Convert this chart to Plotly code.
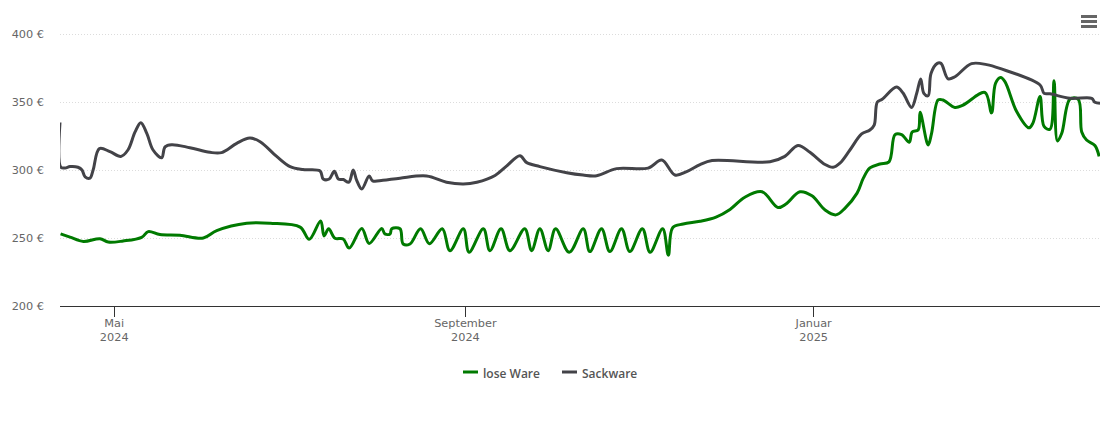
"""Price history of pellets, loose vs. bagged"""

import pandas as pd
import plotly.graph_objects as go

START = pd.Timestamp("2024-04-12")

# days since START, price in euro
sack_days = [0, 0.3, 1.8, 3.5, 6.3, 7.7, 8.8, 10.5, 11.6, 13.8, 17.5, 21.3, 23.8, 26.3, 28.3, 30.4, 32.6, 35.6, 36.8, 39.1,
             45.5, 52.5, 56.6, 61.9, 66.5, 70.1, 75.9, 80.6, 85.1, 91.1, 92.2, 94.3, 96.1, 97.5, 99.2, 101.2, 102.7, 103.9,
             105.7, 108.3, 109.5, 113.1, 119.1, 128.4, 135.4, 141.3, 146, 152.4, 156.5, 161.1, 163.5, 168.1, 177.5, 183.2,
             188, 195, 206, 210.8, 215.4, 219.5, 224.2, 228.4, 248.7, 253.9, 258.5, 262.7, 268, 270.8, 273.2, 276.7, 280.8,
             283.7, 285.2, 286.3, 288, 293, 295.3, 298.3, 300.1, 301.5, 302.6, 304.1, 305.1, 307.3, 308.6, 311.1, 313.5,
             319.3, 324.6, 329.2, 343.3, 344.7, 346.8, 353.8, 361.4, 362.5, 364.3]
sack_prices = [335, 302, 301.5, 302.5, 302, 300, 295, 294, 300, 315.7, 313.5, 310, 314.7, 328, 334.8, 327, 314.7, 309, 317, 318.6,
               316.4, 313, 312.8, 319.6, 323.5, 320.8, 310, 302.5, 300.3, 299.3, 293.4, 293.4, 299, 293.4, 293, 291, 300, 292.6,
               286, 295.6, 292, 292.4, 294, 295.6, 291, 289.7, 291, 296, 303, 310.5, 305.4, 302.5, 298, 296.3,
               295.8, 301, 301.4, 307.3, 296.3, 298.8, 304, 307, 306, 310, 318, 313, 304, 302, 305, 314.7, 326.5,
               329.4, 333, 350, 352, 361, 356.6, 346, 356.4, 367, 356.4, 354.6, 371, 378.4, 378.4, 367, 368.6,
               378.2, 377.5, 374.7, 362.5, 356.4, 356, 352.7, 352.7, 349.8, 349]

lose_days = [0.2, 3.5, 8.2, 14, 16.9, 22.1, 28.6, 30.9, 35, 42, 50.2, 54.9, 65.4, 73.6, 84.1, 87.3, 91.3, 92.5, 94.1, 96.3,
             99.2, 101.3, 105.7, 108.3, 112.7, 113.8, 115.6, 116.2, 119.1, 120.2, 122.6, 126.3, 129.4, 133.9, 136.6, 141.3,
             143.3, 148.3, 150.6, 154.5, 157.6, 162.8, 165.2, 168.1, 171, 173.6, 178.4, 183.3, 185.6, 189.7, 192.6, 196.7,
             199.6, 204, 206.7, 211.1, 213.1, 214.6, 218.3, 224.2, 229.8, 234.7, 239.9, 245.9, 251.5, 254.3, 259.2, 263.4,
             268, 271.8, 275, 279.2, 281.4, 283.7, 287.2, 290.4, 292.5, 294.8, 297.5, 298.5, 300.6, 301.3, 304.1, 305.3,
             307.6, 309.3, 313.5, 316.4, 324, 326.3, 327.7, 329.5, 331, 335.1, 339.4, 340.8, 343.3, 344.7, 346.8, 348.2,
             349.4, 350.9, 353.8, 356.7, 357.9, 359.6, 362.5, 364]
lose_prices = [253, 250.7, 247.5, 249.5, 247, 247.8, 250.5, 254.7, 252.5, 252, 250, 255.4, 260.8, 260.8, 258, 249, 262.5, 251.5, 256.8, 249.8,
               249.3, 242.6, 257, 246, 257, 253, 253, 256.8, 256.8, 245.6, 245.6, 256.8, 245.8, 256.8, 240.7, 256.8,
               239.5, 256.8, 240.7, 256.8, 240.7, 256.8, 240.7, 256.8, 240.7, 256.8, 239.5, 256.8, 240, 256.8, 240, 256.8,
               240, 256.8, 239.5, 256.8, 237.3, 257.6, 260.3, 262.3, 265.4, 271, 280, 284, 272.4, 275, 284, 281,
               270.6, 267, 272, 283, 294, 301.5, 304.4, 306, 326, 326, 320.4, 328, 329.4, 342.4, 318.4, 327,
               351.5, 351.5, 346, 347.8, 357, 342, 363.7, 368, 365, 343, 331, 334.5, 354, 332, 330, 365.6,
               321.3, 327, 352.2, 352, 328, 322, 318, 310]

tick_dates = ["2024-05-01", "2024-09-01", "2025-01-01"]
tick_labels = ["Mai<br>2024", "September<br>2024", "Januar<br>2025"]
y_ticks = [200, 250, 300, 350, 400]
y_labels = ["200 €", "250 €", "300 €", "350 €", "400 €"]

GREEN = "#007a00"
GREY = "#434348"
PLOT_W, PLOT_H = 1040, 273


def to_dates(days):
    return START + pd.to_timedelta(days, unit="D")


def px_x(px):
    return (px - 60) / PLOT_W


def px_y(py):
    return (306 - py) / PLOT_H


fig = go.Figure()
fig.add_trace(go.Scatter(
    x=to_dates(lose_days), y=lose_prices,
    mode="lines", name="lose Ware",
    line=dict(color=GREEN, width=3, shape="spline", smoothing=1.0),
))
fig.add_trace(go.Scatter(
    x=to_dates(sack_days), y=sack_prices,
    mode="lines", name="Sackware",
    line=dict(color=GREY, width=3, shape="spline", smoothing=1.0),
))

fig.update_layout(
    width=1110, height=423,
    margin=dict(l=60, r=10, t=33, b=117),
    paper_bgcolor="white", plot_bgcolor="white",
    font=dict(family="DejaVu Sans", size=11.3, color="#666666"),
    showlegend=False,
    xaxis=dict(
        range=[START, to_dates([364.3])[0]],
        tickmode="array", tickvals=tick_dates, ticktext=tick_labels,
        ticks="outside", ticklen=10, tickwidth=1, tickcolor="#333333",
        ticklabelstandoff=-4,
        showline=True, linecolor="#333333", linewidth=1,
        showgrid=False, zeroline=False,
    ),
    yaxis=dict(
        # a hair above 400 so the top gridline still gets drawn
        range=[200, 400.74], tickmode="array", tickvals=y_ticks, ticktext=y_labels,
        showgrid=True, griddash="1px,2px",
        gridcolor="#dcdcdc", gridwidth=1, zeroline=False, showline=False,
        ticks="", ticklabelstandoff=15,
    ),
)

# legend drawn by hand, plotly's own symbols can't go this short
for name, color, x0, label_x in (("lose Ware", GREEN, 463, 483), ("Sackware", GREY, 562, 582)):
    fig.add_shape(type="line", xref="paper", yref="paper",
                  x0=px_x(x0), x1=px_x(x0 + 15), y0=px_y(372), y1=px_y(372),
                  line=dict(color=color, width=3))
    fig.add_annotation(xref="paper", yref="paper", x=px_x(label_x), y=px_y(373),
                       text=name, showarrow=False, xanchor="left", yanchor="middle",
                       font=dict(family="Open Sans", size=12, color="#555555", weight=600),
                       borderpad=0, xshift=-1)

# menu icon, top right
for py in (16.5, 21.5, 26.5):
    fig.add_shape(type="line", xref="paper", yref="paper",
                  x0=px_x(1081), x1=px_x(1097), y0=px_y(py), y1=px_y(py),
                  line=dict(color="#666666", width=3))

fig.write_html("out.html", config=dict(displayModeBar=False),
               post_script="document.body.style.margin='0';")
